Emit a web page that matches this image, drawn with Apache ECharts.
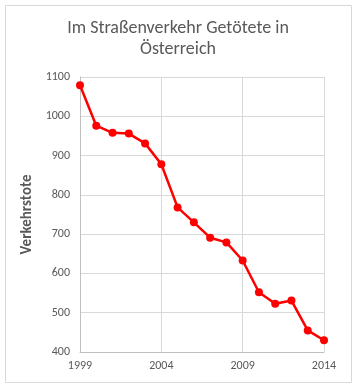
<!DOCTYPE html>
<html><head><meta charset="utf-8">
<script src="https://cdn.jsdelivr.net/npm/echarts@6/dist/echarts.min.js"></script>
<style>html,body{margin:0;padding:0;background:#fff}#c{width:356px;height:390px}</style>
</head><body><div id="c"></div>
<script>
const years = ['1999','2000','2001','2002','2003','2004','2005','2006','2007','2008','2009','2010','2011','2012','2013','2014'];
const deaths = [1079,976,958,956,931,878,768,730,691,679,633,552,523,531,455,430];
const yTicks = {min:400, max:1100, interval:100};
const titleText = 'Im Straßenverkehr Getötete in\nÖsterreich';
const yName = 'Verkehrstote';
const F = 'Carlito, "Open Sans", sans-serif';

const chart = echarts.init(document.getElementById('c'), null, {renderer:'canvas'});
chart.setOption({
  animation:false,
  graphic:[{type:'rect', shape:{x:5.5,y:5.5,width:346,height:377}, style:{fill:'none', stroke:'#d9d9d9', lineWidth:1}, silent:true}],
  title:{text:titleText, left:'center', top:13, textStyle:{fontFamily:F, fontSize:18, fontWeight:'normal', color:'#595959', lineHeight:21}},
  grid:{left:80, right:32, top:77, bottom:38, containLabel:false},
  xAxis:{type:'category', data:years, boundaryGap:false,
    axisLine:{lineStyle:{color:'#bfbfbf'}}, axisTick:{show:false},
    axisLabel:{interval:4, color:'#595959', fontSize:12, fontFamily:F, margin:8},
    splitLine:{show:true, interval:4, lineStyle:{color:'#d9d9d9'}}},
  yAxis:{type:'value', min:yTicks.min, max:yTicks.max, interval:yTicks.interval,
    name:yName, nameLocation:'middle', nameGap:41, nameRotate:90,
    nameTextStyle:{color:'#595959', fontSize:15, fontWeight:'bold', fontFamily:F},
    axisLine:{show:true, lineStyle:{color:'#bfbfbf'}}, axisTick:{show:false},
    axisLabel:{color:'#595959', fontSize:12, fontFamily:F, margin:10, formatter:function(v){return String(v);}},
    splitLine:{lineStyle:{color:'#d9d9d9'}}},
  series:[{type:'line', data:deaths, symbol:'circle', symbolSize:8,
    lineStyle:{color:'#ff0000', width:2.5}, itemStyle:{color:'#ff0000'}}]
});
</script></body></html>
